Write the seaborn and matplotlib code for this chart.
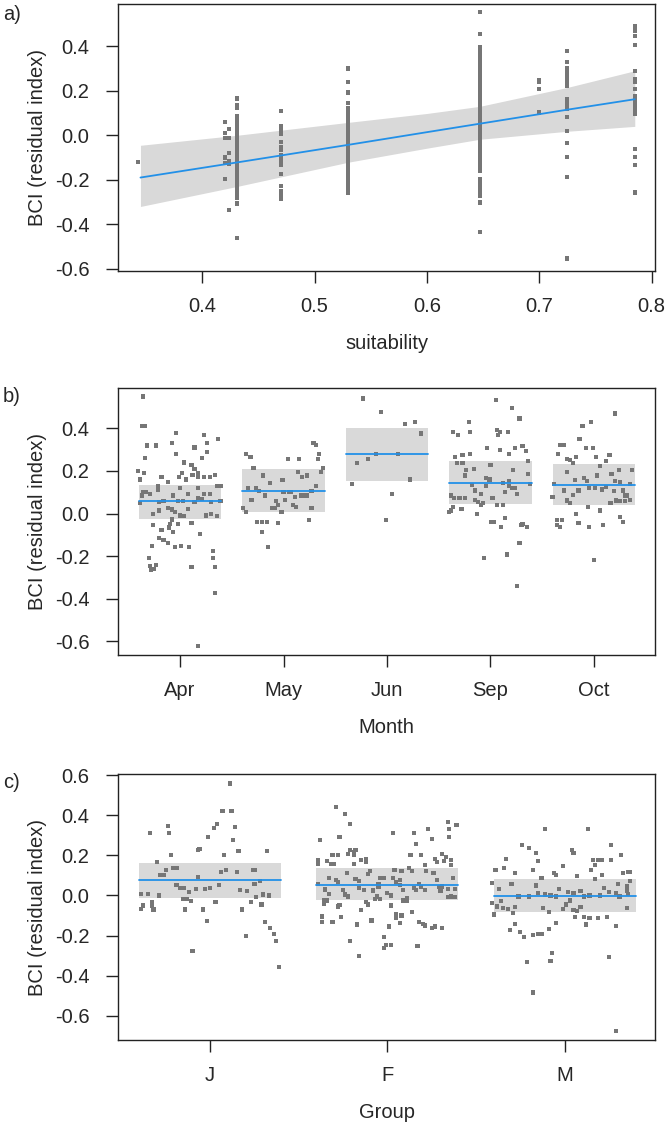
"""Partial-residual plots of BCI against suitability, month and group (visreg style)."""

import matplotlib
matplotlib.use("Agg")
import matplotlib.pyplot as plt
import numpy as np
import pandas as pd
import seaborn as sns

# ---------------------------------------------------------------- panel a data
# partial residuals, one list per observed suitability value
suit_values = [0.343, 0.420, 0.424, 0.431, 0.470, 0.530, 0.647, 0.700, 0.725, 0.785]
bci_s0343 = [-0.12]
bci_s0420 = [0.06, 0.012, -0.013, -0.10, -0.126, -0.195]
bci_s0424 = [0.027, -0.013, -0.078, -0.115, -0.13, -0.336]
bci_s0431 = [0.165, 0.137, 0.125, 0.087, 0.078, 0.069, 0.060, 0.051, 0.042, 0.033,
             0.024, 0.015, 0.006, -0.003, -0.012, -0.021, -0.030, -0.039, -0.048,
             -0.057, -0.066, -0.075, -0.084, -0.093, -0.102, -0.111, -0.120, -0.129,
             -0.138, -0.147, -0.156, -0.165, -0.174, -0.183, -0.192, -0.201, -0.210,
             -0.219, -0.228, -0.237, -0.246, -0.255, -0.264, -0.273, -0.280, -0.307,
             -0.46]
bci_s0470 = [0.109, 0.042, 0.03, 0.015, 0.004, -0.03, -0.051, -0.065, -0.09, -0.108,
             -0.12, -0.135, -0.175, -0.228, -0.25, -0.27, -0.288]
bci_s0530 = [0.30, 0.241, 0.192, 0.144, 0.124, 0.109, 0.094, 0.080, 0.062, 0.045,
             0.030, 0.012, -0.005, -0.020, -0.038, -0.052, -0.070, -0.085, -0.102,
             -0.118, -0.135, -0.150, -0.168, -0.185, -0.200, -0.218, -0.233, -0.248,
             -0.260]
bci_s0647 = [0.554, 0.457, 0.395, 0.385, 0.372, 0.355, 0.345, 0.335, 0.325, 0.315,
             0.305, 0.295, 0.285, 0.275, 0.265, 0.255, 0.237, 0.227, 0.217, 0.207,
             0.197, 0.187, 0.177, 0.167, 0.157, 0.147, 0.137, 0.127, 0.117, 0.107,
             0.097, 0.087, 0.077, 0.067, 0.057, 0.047, 0.037, 0.027, 0.017, 0.007,
             -0.003, -0.013, -0.023, -0.033, -0.043, -0.053, -0.063, -0.073, -0.083,
             -0.093, -0.103, -0.113, -0.123, -0.133, -0.143, -0.153, -0.160, -0.198,
             -0.210, -0.222, -0.234, -0.246, -0.258, -0.273, -0.302, -0.435]
bci_s0700 = [0.25, 0.238, 0.207, 0.102]
bci_s0725 = [0.379, 0.331, 0.30, 0.29, 0.28, 0.27, 0.26, 0.25, 0.24, 0.23, 0.22,
             0.162, 0.15, 0.14, 0.128, 0.117, 0.084, 0.019, -0.033, -0.096, -0.186,
             -0.554]
bci_s0785 = [0.489, 0.478, 0.469, 0.446, 0.404, 0.289, 0.252, 0.24, 0.207, 0.177,
             0.158, 0.147, 0.136, 0.125, 0.114, 0.104, 0.094, -0.063, -0.096, -0.135,
             -0.257]
suit_residuals = [bci_s0343, bci_s0420, bci_s0424, bci_s0431, bci_s0470, bci_s0530,
                  bci_s0647, bci_s0700, bci_s0725, bci_s0785]

# fitted line and confidence band read along the suitability axis
fit_suit = [0.345, 0.431, 0.530, 0.600, 0.647, 0.725, 0.785]
fit_bci = [-0.19, -0.122, -0.043, 0.014, 0.052, 0.115, 0.162]
fit_lower = [-0.32, -0.23, -0.121, -0.058, -0.018, 0.018, 0.04]
fit_upper = [-0.045, 0.0, 0.058, 0.098, 0.13, 0.215, 0.29]

# ---------------------------------------------------------------- panel b data
months = ["Apr", "May", "Jun", "Sep", "Oct"]
month_fit = [0.057, 0.108, 0.278, 0.142, 0.132]
month_lower = [-0.028, 0.005, 0.151, 0.047, 0.042]
month_upper = [0.132, 0.208, 0.40, 0.245, 0.231]

# (horizontal jitter, residual)
apr_points = [(-0.36, 0.55), (-0.37, 0.41), (-0.34, 0.41), (-0.32, 0.32), (-0.23, 0.32),
              (-0.04, 0.38), (-0.08, 0.33), (-0.04, 0.28), (0.23, 0.37), (0.37, 0.35),
              (0.14, 0.31), (0.26, 0.33), (0.26, 0.29), (0.21, 0.26), (-0.34, 0.26),
              (-0.41, 0.20), (-0.35, 0.19), (-0.39, 0.16), (-0.18, 0.17), (-0.12, 0.15),
              (-0.21, 0.13), (-0.01, 0.17), (0.02, 0.19), (0.06, 0.16), (0.12, 0.18),
              (0.17, 0.19), (0.17, 0.17), (0.23, 0.17), (0.29, 0.17), (0.34, 0.18),
              (0.14, 0.21), (0.11, 0.23), (0.04, 0.24), (-0.36, 0.10), (-0.33, 0.10),
              (-0.29, 0.09), (-0.21, 0.11), (-0.07, 0.085), (0.00, 0.12), (0.08, 0.09),
              (0.17, 0.12), (0.23, 0.09), (0.29, 0.09), (0.36, 0.13), (0.39, 0.13),
              (-0.37, 0.085), (-0.39, 0.05), (-0.20, 0.055), (-0.16, 0.057),
              (-0.02, 0.057), (0.03, 0.057), (0.14, 0.053), (0.17, 0.072), (0.21, 0.069),
              (0.30, 0.053), (0.39, 0.057), (-0.26, -0.002), (-0.20, 0.014),
              (-0.12, 0.025), (-0.08, 0.019), (-0.05, 0.009), (0.00, -0.009),
              (0.04, -0.013), (0.08, 0.022), (0.25, -0.009), (0.30, -0.002),
              (0.36, -0.013), (-0.26, -0.053), (-0.08, -0.028), (-0.10, -0.049),
              (-0.02, -0.049), (0.11, -0.046), (-0.11, -0.066), (-0.18, -0.077),
              (-0.07, -0.088), (0.19, -0.096), (-0.20, -0.116), (-0.16, -0.124),
              (-0.12, -0.138), (-0.05, -0.159), (0.01, -0.151), (0.09, -0.159),
              (-0.27, -0.151), (-0.30, -0.209), (-0.29, -0.245), (-0.28, -0.264),
              (-0.25, -0.261), (-0.23, -0.242), (0.32, -0.175), (0.32, -0.209),
              (0.34, -0.253), (0.11, -0.253), (0.34, -0.374), (0.17, -0.623)]
may_points = [(-0.36, 0.281), (-0.32, 0.266), (-0.29, 0.214), (-0.20, 0.179),
              (-0.13, 0.143), (-0.01, 0.159), (0.04, 0.255), (0.15, 0.255), (0.14, 0.195),
              (0.18, 0.171), (0.23, 0.179), (0.29, 0.332), (0.31, 0.324), (0.34, 0.281),
              (0.33, 0.255), (0.38, 0.214), (0.36, 0.195), (0.31, 0.129), (0.27, 0.104),
              (-0.34, 0.119), (-0.27, 0.119), (-0.24, 0.104), (-0.31, 0.064),
              (-0.18, 0.085), (-0.39, 0.025), (-0.36, 0.006), (-0.26, -0.038),
              (-0.21, -0.041), (-0.16, -0.038), (-0.21, -0.088), (-0.05, -0.046),
              (-0.15, -0.156), (-0.11, 0.025), (-0.08, 0.025), (-0.07, 0.057),
              (-0.05, 0.041), (-0.02, 0.006), (0.01, 0.064), (0.07, 0.10), (0.11, 0.077),
              (0.09, 0.041), (0.12, 0.030), (0.17, 0.085), (0.21, 0.085), (0.23, 0.085),
              (0.25, -0.03), (0.27, 0.025), (0.00, 0.10), (0.05, 0.10)]
jun_points = [(-0.23, 0.541), (-0.06, 0.478), (0.17, 0.42), (0.27, 0.429), (0.33, 0.376),
              (-0.29, 0.239), (-0.18, 0.255), (-0.11, 0.281), (0.11, 0.281),
              (-0.34, 0.137), (0.22, 0.16), (0.05, 0.09), (-0.01, -0.03)]
sep_points = [(0.05, 0.533), (0.21, 0.497), (0.28, 0.447), (-0.21, 0.431), (-0.36, 0.384),
              (-0.31, 0.368), (-0.20, 0.384), (0.06, 0.392), (0.09, 0.384), (0.07, 0.368),
              (0.17, 0.384), (-0.03, 0.308), (0.09, 0.297), (0.18, 0.281), (0.24, 0.308),
              (0.31, 0.318), (0.34, 0.292), (-0.34, 0.266), (-0.27, 0.274),
              (-0.20, 0.281), (-0.32, 0.239), (-0.27, 0.239), (-0.16, 0.211),
              (-0.24, 0.203), (-0.25, 0.179), (0.00, 0.230), (0.22, 0.203), (0.36, 0.245),
              (0.36, 0.187), (-0.04, 0.167), (-0.01, 0.160), (0.12, 0.145), (0.18, 0.151),
              (0.18, 0.129), (0.21, 0.121), (0.24, 0.121), (-0.18, 0.135), (-0.15, 0.108),
              (-0.09, 0.093), (-0.04, 0.129), (0.38, 0.140), (-0.38, 0.085),
              (-0.35, 0.074), (-0.30, 0.074), (-0.25, 0.074), (0.02, 0.072), (0.14, 0.10),
              (0.26, 0.093), (-0.15, 0.064), (-0.12, 0.053), (-0.09, 0.041),
              (-0.07, 0.050), (0.06, 0.041), (0.12, 0.041), (-0.36, 0.030),
              (-0.40, 0.006), (-0.38, 0.014), (-0.28, 0.022), (-0.13, -0.002),
              (0.01, -0.038), (0.03, -0.038), (0.14, -0.022), (0.10, -0.064),
              (0.30, -0.053), (0.31, -0.049), (0.35, -0.064), (0.28, -0.140),
              (-0.06, -0.211), (0.16, -0.193), (0.26, -0.340)]
oct_points = [(0.20, 0.470), (-0.03, 0.431), (-0.11, 0.412), (-0.14, 0.352),
              (-0.33, 0.324), (-0.29, 0.324), (-0.35, 0.281), (-0.08, 0.308),
              (-0.01, 0.308), (-0.17, 0.266), (-0.26, 0.255), (-0.23, 0.25),
              (-0.20, 0.239), (0.02, 0.266), (0.15, 0.274), (0.12, 0.245), (0.06, 0.222),
              (-0.26, 0.195), (0.17, 0.187), (0.24, 0.203), (0.37, 0.203), (-0.10, 0.167),
              (-0.18, 0.159), (-0.07, 0.151), (0.03, 0.179), (0.20, 0.151), (0.25, 0.148),
              (-0.39, 0.140), (0.35, 0.140), (-0.29, 0.108), (-0.20, 0.088),
              (-0.15, 0.108), (-0.05, 0.119), (0.01, 0.119), (0.08, 0.113), (0.12, 0.124),
              (0.19, 0.104), (0.28, 0.108), (0.30, 0.085), (0.32, 0.085), (0.35, 0.064),
              (-0.40, 0.077), (-0.26, 0.061), (-0.23, 0.050), (-0.06, 0.030),
              (0.06, 0.014), (0.16, 0.050), (0.21, 0.061), (0.25, 0.058), (0.30, 0.058),
              (-0.17, -0.002), (-0.36, -0.030), (-0.31, -0.030), (-0.36, -0.053),
              (-0.33, -0.064), (-0.15, -0.046), (-0.05, -0.064), (0.09, -0.053),
              (0.25, -0.017), (0.28, -0.038), (0.00, -0.217)]
month_points = [apr_points, may_points, jun_points, sep_points, oct_points]

# ---------------------------------------------------------------- panel c data
groups = ["J", "F", "M"]
group_fit = [0.075, 0.052, -0.003]
group_lower = [-0.013, -0.025, -0.08]
group_upper = [0.162, 0.137, 0.08]

j_points = [(0.11, 0.558), (0.07, 0.422), (0.12, 0.422), (0.04, 0.358), (0.02, 0.338),
            (0.14, 0.34), (-0.01, 0.292), (0.13, 0.275), (-0.06, 0.233), (-0.07, 0.228),
            (0.16, 0.222), (0.32, 0.222), (-0.34, 0.312), (-0.24, 0.345), (-0.23, 0.312),
            (-0.22, 0.202), (-0.30, 0.167), (-0.28, 0.10), (-0.26, 0.10), (-0.25, 0.128),
            (-0.21, 0.137), (-0.19, 0.137), (0.08, 0.202), (0.06, 0.117), (0.09, 0.128),
            (0.15, 0.117), (0.24, 0.128), (0.25, 0.128), (-0.07, 0.092), (-0.19, 0.053),
            (-0.17, 0.037), (-0.15, 0.037), (-0.12, 0.017), (-0.08, 0.033),
            (-0.03, 0.033), (0.00, 0.037), (0.05, 0.053), (0.17, 0.028), (0.21, 0.022),
            (0.25, 0.058), (0.28, 0.072), (0.26, -0.008), (0.30, 0.005), (0.33, 0.0),
            (-0.39, 0.008), (-0.35, 0.008), (-0.29, 0.0), (-0.33, -0.033),
            (-0.38, -0.05), (-0.39, -0.067), (-0.33, -0.05), (-0.32, -0.07),
            (-0.15, -0.017), (-0.13, -0.017), (-0.11, -0.028), (-0.14, -0.07),
            (-0.04, -0.07), (0.03, -0.033), (0.18, -0.07), (0.23, -0.033),
            (0.29, -0.045), (-0.02, -0.128), (0.20, -0.20), (0.31, -0.133),
            (0.34, -0.163), (0.36, -0.192), (0.37, -0.227), (-0.10, -0.275),
            (0.39, -0.355)]
f_points = [(-0.29, 0.442), (-0.24, 0.405), (-0.21, 0.358), (-0.27, 0.292), (-0.38, 0.275),
            (0.34, 0.367), (0.39, 0.35), (0.23, 0.33), (0.35, 0.33), (0.25, 0.283),
            (0.35, 0.292), (0.03, 0.312), (0.15, 0.312), (0.16, 0.258), (-0.39, 0.175),
            (-0.39, 0.158), (-0.34, 0.172), (-0.31, 0.20), (-0.28, 0.20), (-0.32, 0.155),
            (-0.30, 0.155), (-0.21, 0.225), (-0.19, 0.217), (-0.18, 0.225),
            (-0.22, 0.208), (-0.19, 0.20), (-0.15, 0.175), (-0.12, 0.183),
            (-0.12, 0.167), (0.13, 0.20), (0.19, 0.20), (0.31, 0.208), (0.33, 0.192),
            (0.27, 0.183), (0.28, 0.167), (0.32, 0.172), (0.36, 0.175), (0.36, 0.15),
            (-0.19, 0.155), (0.21, 0.15), (0.22, 0.12), (0.12, 0.137), (0.14, 0.12),
            (0.04, 0.128), (0.08, 0.12), (-0.10, 0.12), (-0.11, 0.105), (-0.23, 0.112),
            (-0.33, 0.088), (-0.29, 0.075), (-0.28, 0.067), (-0.18, 0.083),
            (-0.16, 0.072), (-0.04, 0.088), (-0.02, 0.088), (-0.05, 0.055),
            (0.03, 0.088), (0.07, 0.078), (0.05, 0.067), (0.07, 0.053), (0.18, 0.055),
            (0.19, 0.042), (0.15, 0.038), (0.26, 0.112), (0.28, 0.075), (0.31, 0.045),
            (0.37, 0.088), (0.38, 0.033), (-0.39, 0.055), (-0.35, 0.03), (-0.33, 0.008),
            (-0.25, 0.028), (-0.24, 0.005), (-0.22, -0.005), (-0.16, 0.038),
            (-0.13, 0.028), (-0.05, 0.045), (-0.08, 0.025), (0.00, 0.013), (0.02, 0.0),
            (0.09, 0.028), (0.16, 0.028), (0.21, 0.028), (0.29, 0.042), (0.30, 0.025),
            (0.34, 0.033), (0.36, -0.005), (0.34, -0.008), (0.38, -0.008),
            (-0.06, -0.005), (-0.07, -0.017), (-0.04, -0.017), (-0.12, -0.033),
            (-0.11, -0.045), (0.02, -0.05), (-0.27, -0.047), (-0.36, -0.025),
            (-0.34, -0.025), (-0.36, -0.042), (-0.28, -0.055), (-0.15, -0.072),
            (0.09, -0.025), (0.11, -0.012), (0.11, -0.028), (-0.37, -0.105),
            (-0.37, -0.133), (-0.31, -0.133), (-0.26, -0.108), (-0.17, -0.145),
            (-0.09, -0.125), (0.01, -0.155), (0.05, -0.095), (0.08, -0.10),
            (0.05, -0.112), (0.07, -0.137), (0.14, -0.083), (0.18, -0.133),
            (0.20, -0.142), (0.21, -0.15), (0.25, -0.162), (0.27, -0.155),
            (0.31, -0.163), (-0.21, -0.228), (-0.02, -0.208), (-0.01, -0.245),
            (0.02, -0.245), (-0.02, -0.262), (0.17, -0.253), (-0.16, -0.30)]
m_points = [(-0.11, 0.33), (0.13, 0.33), (-0.24, 0.25), (-0.20, 0.238), (-0.16, 0.212),
            (0.04, 0.225), (0.05, 0.212), (0.26, 0.25), (0.32, 0.203), (-0.33, 0.183),
            (-0.39, 0.128), (-0.34, 0.138), (-0.28, 0.112), (-0.18, 0.128), (-0.15, 0.17),
            (-0.01, 0.145), (0.16, 0.178), (0.19, 0.178), (0.21, 0.178), (0.26, 0.178),
            (0.17, 0.15), (0.15, 0.125), (0.21, 0.10), (0.33, 0.112), (0.36, 0.117),
            (0.37, 0.117), (-0.13, 0.088), (-0.06, 0.112), (-0.05, 0.10), (0.07, 0.095),
            (0.17, 0.083), (0.30, 0.058), (0.35, 0.045), (0.37, 0.072), (-0.41, 0.062),
            (-0.30, 0.055), (-0.16, 0.05), (-0.37, 0.033), (-0.26, -0.005),
            (-0.20, -0.005), (-0.15, 0.012), (-0.11, 0.005), (-0.08, 0.0),
            (-0.05, -0.005), (-0.03, 0.033), (0.02, 0.017), (0.05, 0.012), (0.09, 0.022),
            (0.11, -0.005), (0.14, 0.0), (0.20, 0.0), (0.22, 0.038), (0.25, 0.017),
            (0.29, 0.012), (0.31, -0.005), (0.36, 0.008), (0.35, 0.022), (-0.41, -0.038),
            (-0.38, -0.055), (-0.35, -0.062), (-0.32, -0.067), (-0.28, -0.058),
            (-0.40, -0.095), (-0.36, -0.028), (-0.12, -0.062), (-0.09, -0.083),
            (-0.01, -0.067), (0.01, -0.045), (0.03, -0.025), (0.05, -0.072),
            (0.07, -0.078), (0.09, -0.058), (0.11, -0.108), (0.14, -0.112),
            (0.19, -0.112), (0.24, -0.108), (0.35, -0.063), (-0.29, -0.088),
            (-0.31, -0.172), (-0.28, -0.142), (-0.25, -0.183), (-0.23, -0.208),
            (-0.18, -0.197), (-0.15, -0.192), (-0.13, -0.192), (-0.09, -0.167),
            (-0.05, -0.138), (0.06, -0.108), (0.12, -0.145), (0.29, -0.153),
            (-0.07, -0.288), (-0.08, -0.328), (-0.21, -0.333), (0.25, -0.308),
            (-0.18, -0.483), (0.29, -0.675)]
group_points = [j_points, f_points, m_points]

# ---------------------------------------------------------------- axis text
y_ticks_ab = [-0.6, -0.4, -0.2, 0.0, 0.2, 0.4]
y_ticks_c = [-0.6, -0.4, -0.2, 0.0, 0.2, 0.4, 0.6]
suit_ticks = [0.4, 0.5, 0.6, 0.7, 0.8]

# ---------------------------------------------------------------- style
sns.set_style("white")
plt.rcParams["font.family"] = ["Liberation Sans", "DejaVu Sans"]

POINT_COLOR = "#767676"
LINE_COLOR = "#2290e8"
BAND_COLOR = "#d9d9d9"
FONT = 14.5
PT_SIZE = 9
HALF = 0.4  # half width of the categorical bands


def fmt(v):
    return f"{v:.1f}".replace("-0.0", "0.0")


def style_axes(ax, yticks, ylim, xlabel):
    ax.set_ylim(*ylim)
    ax.set_yticks(yticks)
    ax.set_yticklabels([fmt(v) for v in yticks])
    for side in ["top", "right", "bottom", "left"]:
        ax.spines[side].set_visible(True)
        ax.spines[side].set_color("#222222")
        ax.spines[side].set_linewidth(1.0)
    ax.tick_params(axis="both", direction="out", length=8.5, width=1.0,
                   color="#222222", labelsize=FONT, left=True, bottom=True)
    ax.tick_params(axis="y", pad=12)
    ax.tick_params(axis="x", pad=10)
    ax.set_xlabel(xlabel, fontsize=FONT, labelpad=13)
    ax.set_ylabel("BCI (residual index)", fontsize=FONT, labelpad=6)


def categorical_panel(ax, labels, point_lists, fit, lower, upper):
    rows = []
    for i, pts in enumerate(point_lists):
        for off, val in pts:
            rows.append({"pos": i + off, "bci": val})
    df = pd.DataFrame(rows)
    for i in range(len(labels)):
        ax.fill_between([i - HALF, i + HALF], lower[i], upper[i],
                        color=BAND_COLOR, lw=0, zorder=1)
    sns.scatterplot(data=df, x="pos", y="bci", marker="s", s=PT_SIZE, color=POINT_COLOR,
                    edgecolor="none", linewidth=0, ax=ax, zorder=3)
    for i in range(len(labels)):
        sns.lineplot(x=[i - HALF, i + HALF], y=[fit[i], fit[i]], color=LINE_COLOR,
                     lw=1.3, ax=ax, zorder=4)
    ax.set_xticks(range(len(labels)))
    ax.set_xticklabels(labels)


W, H = 666, 1134
fig = plt.figure(figsize=(W / 100, H / 100), dpi=100)


def add_axes(left, top, right, bottom):
    return fig.add_axes([left / W, 1 - bottom / H, (right - left) / W, (bottom - top) / H])


# ---------------------------------------------------------------- a) suitability
ax_a = add_axes(118, 4, 655, 271)
df_a = pd.DataFrame({
    "suitability": np.concatenate([[s] * len(r) for s, r in zip(suit_values, suit_residuals)]),
    "bci": np.concatenate(suit_residuals),
})
ax_a.fill_between(fit_suit, fit_lower, fit_upper, color=BAND_COLOR, lw=0, zorder=1)
sns.scatterplot(data=df_a, x="suitability", y="bci", marker="s", s=PT_SIZE, color=POINT_COLOR,
                edgecolor="none", linewidth=0, ax=ax_a, zorder=3)
sns.lineplot(x=fit_suit, y=fit_bci, color=LINE_COLOR, lw=1.3, ax=ax_a, zorder=4)
ax_a.set_xlim(0.325, 0.803)
ax_a.set_xticks(suit_ticks)
ax_a.set_xticklabels([fmt(v) for v in suit_ticks])
style_axes(ax_a, y_ticks_ab, (-0.61, 0.59), "suitability")

# ---------------------------------------------------------------- b) month
ax_b = add_axes(118, 388, 655, 655)
categorical_panel(ax_b, months, month_points, month_fit, month_lower, month_upper)
ax_b.set_xlim(-0.6, 4.59)
style_axes(ax_b, y_ticks_ab, (-0.665, 0.59), "Month")

# ---------------------------------------------------------------- c) group
ax_c = add_axes(118, 774, 655, 1040)
categorical_panel(ax_c, groups, group_points, group_fit, group_lower, group_upper)
ax_c.set_xlim(-0.52, 2.51)
style_axes(ax_c, y_ticks_c, (-0.72, 0.605), "Group")

for label, ypix in [("a)", 15), ("b)", 396), ("c)", 782)]:
    fig.text(3 / W, 1 - ypix / H, label, fontsize=FONT, ha="left", va="center")

fig.savefig("out.png", dpi=100)
